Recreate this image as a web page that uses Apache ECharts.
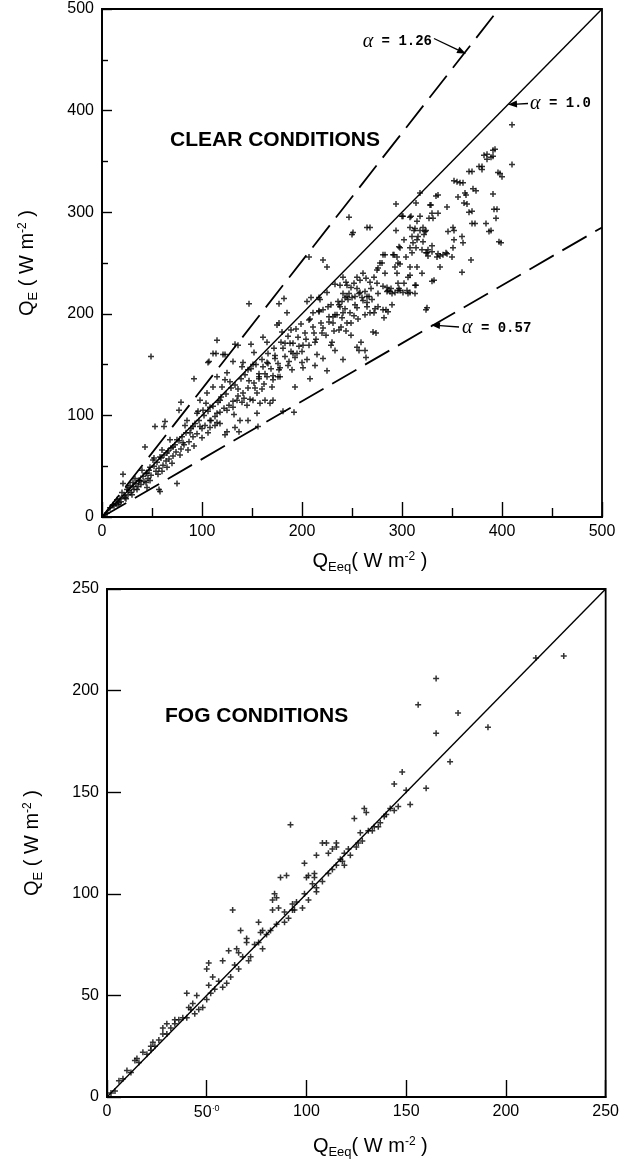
<!DOCTYPE html>
<html><head><meta charset="utf-8">
<script src="https://cdn.jsdelivr.net/npm/echarts/dist/echarts.min.js"></script>
<style>html,body{margin:0;padding:0;background:#fff}#c{width:622px;height:1165px}</style>
</head><body><div id="c"></div>
<script>
// ---------- DATA ----------
const clearTicks = [0, 100, 200, 300, 400, 500];
const fogTicks = [0, 50, 100, 150, 200, 250];
const clearAlphas = [1.26, 1.0, 0.57];
const fogAlphas = [1.0];

const clearPoints = [
[410,386],[410,347],[393,362],[385,357],[391,355],[382,356],[389,354],[391,361],[385,352],[380,345],[370,340],[377,345],[380,342],[367,340],[398,338],[400,335],[396,339],[355,330],[361,329],[352,331],[358,329],[364,317],[356,315],[374,321],[371,323],[363,319],[391,318],[336,317],[318,319],[334,316],[362,309],[365,308],[370,301],[367,300],[395,303],[394,294],[392,303],[373,289],[384,289],[389,282],[399,270],[370,289],[387,281],[397,271],[329,307],[314,309],[336,299],[331,294],[301,296],[308,295],[294,308],[345,305],[328,307],[330,299],[327,294],[318,296],[315,291],[309,296],[300,296],[308,285],[313,284],[321,285],[323,281],[310,276],[315,273],[321,271],[311,270],[369,253],[360,241],[352,282],[352,273],[360,276],[346,281],[351,285],[361,270],[351,265],[350,256],[345,259],[336,259],[335,256],[341,258],[330,261],[325,260],[326,257],[312,282],[318,282],[324,282],[322,278],[316,276],[294,282],[302,273],[298,265],[308,265],[314,265],[320,263],[326,263],[330,267],[310,260],[324,260],[338,257],[344,260],[283,258],[292,258],[304,256],[296,250],[308,246],[320,240],[332,233],[338,246],[330,232],[315,246],[308,238],[306,236],[302,230],[313,228],[298,249],[295,256],[297,266],[291,258],[293,246],[295,240],[281,258],[278,250],[275,243],[283,240],[285,226],[288,222],[293,221],[298,223],[301,221],[308,221],[325,206],[324,204],
[247,295],[251,280],[268,285],[265,285],[250,278],[221,253],[225,246],[207,256],[182,215],[177,210],[147,210],[115,174],[114,161],[107,153],[123,160],[136,169],[149,170],[133,170],[92,136],[49,158],[79,113],[77,105],[63,94],[53,89],[62,89],[43,69],
[280,250],[276,245],[272,236],[264,235],[258,233],[252,230],[244,231],[233,229],[241,220],[247,220],[255,225],[263,222],[269,225],[281,227],[289,225],[297,225],[305,223],[313,220],[285,222],[209,216],[217,216],[241,236],[238,228],[245,228],[255,236],[261,240],[268,231],[275,230],[258,221],[253,217],[260,216],[250,216],[243,216],[240,212],[225,221],[218,214],[205,212],[265,211],[270,214],[276,207],[281,204],[286,202],[268,201],[255,206],[248,201],[238,207],[231,197],[221,204],[211,201],
[263,164],[257,164],[264,157],[241,155],[249,179],[271,182],[274,181],[259,172],[255,167],[233,164],[229,169],[245,191],[241,201],[233,199],[227,192],[237,184],[220,181],[213,172],[201,169],[195,161],[187,153],[201,147],[205,155],[177,145],[173,156],[165,152],[157,138],[177,191],[189,184],[185,201],[207,194],[217,202],[229,209],[237,209],[245,217],[249,226],[257,220],[265,217],[276,220],[290,220],[296,223],[306,220],[314,228],[265,207],[272,201],[284,204],[290,209],[282,196],[286,223],[296,230],[225,144],[208,136],[193,128],[213,149],[221,156],[192,103],[181,104],[156,89],[137,84],[123,81],
[161,177],[175,189],[180,182],[183,171],[191,171],[191,161],[190,145],[178,138],[171,135],[165,138],[161,148],[151,150],[146,145],[141,152],[131,153],[125,142],[123,135],[115,138],[111,128],[118,115],[105,122],[98,115],[108,108],[101,105],[95,102],[115,102],[125,105],[131,108],[135,115],[145,110],[151,115],[158,112],[163,115],[168,112],[171,115],[155,102],[146,95],[138,95],[133,88],[125,84],[115,93],[108,95],[108,88],[98,89],[91,89],[85,95],[88,83],[81,73],[75,76],[71,69],[65,63],[58,59],[51,56],[48,49],[45,43],[38,36],[31,34],[28,31],[25,27],[20,24],[15,17],[11,12],[8,9],[5,4],[111,161],[121,160],[106,152],[21,42],[75,33],[58,25],[57,27],[45,29],[37,36],[21,33],
[12,11],[14,13],[17,14],[18,18],[19,15],[22,21],[23,19],[26,22],[27,26],[29,24],[31,30],[32,27],[34,33],[36,30],[37,36],[39,32],[41,40],[42,35],[44,43],[46,38],[47,46],[49,41],[52,50],[54,45],[55,54],[57,48],[59,58],[61,51],[62,61],[64,55],[66,65],[67,57],[69,68],[71,60],[73,71],[74,64],[77,75],[79,67],[80,79],[82,71],[84,83],[87,74],[89,87],[91,79],[93,92],[95,82],[97,95],[100,87],[102,100],[103,90],[106,104],[109,95],[111,109],[113,99],[116,113],[118,103],[119,118],[122,107],[124,121],[127,110],[129,127],[131,114],[133,130],[136,119],[139,136],[141,122],[143,140],[146,127],[149,146],[152,132],[154,150],[157,136],[160,155],[163,141],[166,161],[169,146],[172,166],[176,151],[179,172],[183,158],[186,178],[189,163],[194,185],[197,168],[199,190],[204,175],[208,195],[212,181],[217,203],[221,186],[226,207],[231,191],[236,212],[240,196],[246,214],[252,198],
[26,29],[33,38],[40,46],[52,58],[60,66],[68,76],[83,90],[96,104],[104,112],[120,128],[128,133],[140,148],[152,162],[165,172],[30,22],[44,34],[60,45],[70,53],[86,66],[100,78],[113,90],[140,113],[160,126],[176,138],[200,152],[215,160],[230,172],[244,183],
[136,126],[142,117],[147,134],[153,127],[157,141],[162,131],[166,151],[171,139],[173,159],[178,147],[181,166],[186,149],[188,171],[193,157],[196,177],[200,163],[203,181],[207,169],[211,187],[214,175],[219,191],[224,179],[227,197],[232,183],[235,199],[239,187],[243,205],[249,191],[253,209],[256,195],[261,213],[263,199],[267,217],[273,205],
[16,12],[24,18],[35,27],[48,36],[56,42],[65,49],[78,61],[92,70],[106,83],[118,92],[132,101],[148,116],[155,122],[170,128]
];

const fogPoints = [
[229,217],[215,216],[165,206],[156,193],[176,189],[191,182],[165,179],[172,165],[148,160],[144,154],[160,152],[150,151],[152,144],[129,142],[130,140],[144,141],[142,142],[139,138],[137,135],[134,133],[131,131],[124,137],[127,130],[126,125],[121,122],[119,120],[117,117],[115,114],[113,112],[111,110],[108,125],[110,125],[115,125],[115,123],[111,120],[113,122],[105,119],[99,115],[104,110],[100,108],[92,134],[87,108],[90,109],[119,114],[101,109],[104,108],[84,100],[85,98],[83,97],[86,93],[83,92],[89,91],[93,95],[99,100],[101,97],[98,93],[93,92],[105,101],[103,105],[63,92],[76,86],[67,82],[70,78],[70,76],[65,73],[66,71],[77,81],[85,85],[89,86],[91,88],[76,76],[78,73],[72,69],[71,67],[66,63],[62,59],[60,56],[58,54],[54,53],[52,51],[50,48],[48,44],[46,43],[44,41],[40,39],[36,38],[34,36],[32,34],[28,31],[26,28],[22,25],[18,22],[14,18],[10,13],[6,8],[4,3],[51,66],[50,63],[40,51],[45,50],[61,72],[58,67],[53,59],[51,55],[41,44],[43,46],[30,36],[34,38],[28,34],[23,27],[22,23],[15,19],[78,82],[94,92],
[105,103],[108,106],[118,116],[122,119],[125,123],[128,126],[133,131],[136,133],[140,139],[146,143],[2,2],[8,9],[12,12],[16,17],[20,21],[24,25],[30,31],[38,39],[42,43],[56,57],[64,65],[68,69],[74,75],[80,80],[82,82],[95,96]
];

// ---------- CHART ----------
const FONT = '"Liberation Sans", Arial, Helvetica, sans-serif';
const chart = echarts.init(document.getElementById('c'));
const plus = 'path://M1.5,0h1v1.5h1.5v1h-1.5v1.5h-1v-1.5h-1.5v-1h1.5z';
const axLine = {show:true, onZero:false, lineStyle:{color:'#000', width:1.8}};
const tickStyle = {color:'#000', width:1.4};
const nameRich = {
  q:{fontSize:20, fontFamily:FONT, color:'#000'},
  s:{fontSize:13, fontFamily:FONT, color:'#000', padding:[12,0,0,0]},
  p:{fontSize:12, fontFamily:FONT, color:'#000', padding:[0,0,10,0]}
};
const labelStyle = {color:'#000', fontSize:16, fontFamily:FONT};

function lineData(alpha, maxv) {
  const xEnd = Math.min(maxv, maxv / alpha);
  return [[0,0],[xEnd, alpha * xEnd]];
}

const clearMax = clearTicks[clearTicks.length-1];
const fogMax = fogTicks[fogTicks.length-1];

const option = {
  animation:false,
  backgroundColor:'#fff',
  grid:[
    {left:102, top:9, width:500, height:508, show:true, borderColor:'#000', borderWidth:1.8, backgroundColor:'transparent'},
    {left:107, top:589, width:503, height:508, show:true, borderColor:'#000', borderWidth:1.8, backgroundColor:'transparent'}
  ],
  xAxis:[
    {gridIndex:0, type:'value', min:clearTicks[0], max:clearMax, interval:clearTicks[1]-clearTicks[0],
     axisLine:axLine, axisTick:{inside:true, length:15, lineStyle:tickStyle},
     minorTick:{show:true, splitNumber:2, length:9, lineStyle:tickStyle},
     splitLine:{show:false}, axisLabel:Object.assign({margin:7}, labelStyle),
     name:'{q|Q}{s|Eeq}{q|( W m}{p|-2}{q| )}', nameLocation:'middle', nameGap:32,
     nameTextStyle:{rich:nameRich, padding:[0,0,0,36]}},
    {gridIndex:1, type:'value', min:fogTicks[0], max:fogMax, interval:fogTicks[1]-fogTicks[0],
     axisLine:axLine, axisTick:{inside:true, length:17, lineStyle:tickStyle},
     splitLine:{show:false},
     axisLabel:Object.assign({margin:7, formatter:v => v===50 ? '50{s|·0}' : String(v),
        rich:{s:{fontSize:9, fontFamily:FONT, color:'#000', padding:[0,0,8,0]}}}, labelStyle),
     name:'{q|Q}{s|Eeq}{q|( W m}{p|-2}{q| )}', nameLocation:'middle', nameGap:37,
     nameTextStyle:{rich:nameRich, padding:[0,0,0,28]}}
  ],
  yAxis:[
    {gridIndex:0, type:'value', min:clearTicks[0], max:clearMax, interval:clearTicks[1]-clearTicks[0],
     axisLine:axLine, axisTick:{inside:true, length:10, lineStyle:tickStyle},
     minorTick:{show:true, splitNumber:2, length:6, lineStyle:tickStyle},
     splitLine:{show:false}, axisLabel:Object.assign({margin:8}, labelStyle),
     name:'{q|Q}{s|E}{q| ( W m}{p|-2}{q| )}', nameLocation:'middle', nameGap:62,
     nameTextStyle:{rich:nameRich}},
    {gridIndex:1, type:'value', min:fogTicks[0], max:fogMax, interval:fogTicks[1]-fogTicks[0],
     axisLine:axLine, axisTick:{inside:true, length:14, lineStyle:tickStyle},
     splitLine:{show:false}, axisLabel:Object.assign({margin:8}, labelStyle),
     name:'{q|Q}{s|E}{q| ( W m}{p|-2}{q| )}', nameLocation:'middle', nameGap:62,
     nameTextStyle:{rich:nameRich}}
  ],
  series:[
    {type:'scatter', xAxisIndex:0, yAxisIndex:0, data:clearPoints, symbol:plus, symbolSize:6,
     itemStyle:{color:'#000'}, silent:true},
    {type:'scatter', xAxisIndex:1, yAxisIndex:1, data:fogPoints, symbol:plus, symbolSize:6,
     itemStyle:{color:'#000'}, silent:true}
  ].concat(clearAlphas.map(a => ({
     type:'line', xAxisIndex:0, yAxisIndex:0, data:lineData(a, clearMax), symbol:'none', silent:true,
     lineStyle:{color:'#000', width: a===1.0 ? 1.4 : 1.8, type: a===1.0 ? 'solid' : [28,10]}
  }))).concat(fogAlphas.map(a => ({
     type:'line', xAxisIndex:1, yAxisIndex:1, data:lineData(a, fogMax), symbol:'none', silent:true,
     lineStyle:{color:'#000', width:1.4}
  })))
};
chart.setOption(option);

// ---------- ANNOTATIONS ----------
const p0 = v => chart.convertToPixel({gridIndex:0}, v);
const p1 = v => chart.convertToPixel({gridIndex:1}, v);
const alphaRich = {
  a:{fontFamily:'"Liberation Serif", "DejaVu Serif", serif', fontStyle:'italic', fontSize:20, color:'#000'},
  b:{fontFamily:'"Liberation Mono", "DejaVu Sans Mono", monospace', fontWeight:'bold', fontSize:14, color:'#000'}
};
function arrow(from, to) {
  const dx = to[0]-from[0], dy = to[1]-from[1];
  const L = Math.hypot(dx,dy), ux = dx/L, uy = dy/L;
  const hl = 9, hw = 3.5;
  const bx = to[0]-ux*hl, by = to[1]-uy*hl;
  return [
    {type:'line', shape:{x1:from[0], y1:from[1], x2:bx, y2:by}, style:{stroke:'#000', lineWidth:1.3}, silent:true},
    {type:'polygon', shape:{points:[[to[0],to[1]],[bx-uy*hw, by+ux*hw],[bx+uy*hw, by-ux*hw]]}, style:{fill:'#000'}, silent:true}
  ];
}
function txt(pos, text, align, extra) {
  return Object.assign({type:'text', x:pos[0], y:pos[1], silent:true,
    style:Object.assign({text:text, align:align, verticalAlign:'middle', fill:'#000'}, extra)});
}
const g = [];
g.push(txt(p0([173,371]), 'CLEAR CONDITIONS', 'center', {font:'bold 21px ' + FONT}));
g.push(txt(p1([75,187.5]), 'FOG CONDITIONS', 'center', {font:'bold 21px ' + FONT}));
g.push(txt(p0([330,468]), '{a|α}{b| = 1.26}', 'right', {rich:alphaRich}));
g.push(txt(p0([428,407]), '{a|α}{b| = 1.0}', 'left', {rich:alphaRich}));
g.push(txt(p0([360,186]), '{a|α}{b| = 0.57}', 'left', {rich:alphaRich}));
g.push(...arrow(p0([332,471]), p0([364,456])));
g.push(...arrow(p0([426,407]), p0([406,406])));
g.push(...arrow(p0([357,187]), p0([329,189])));
chart.setOption({graphic:g});
</script>
</body></html>
